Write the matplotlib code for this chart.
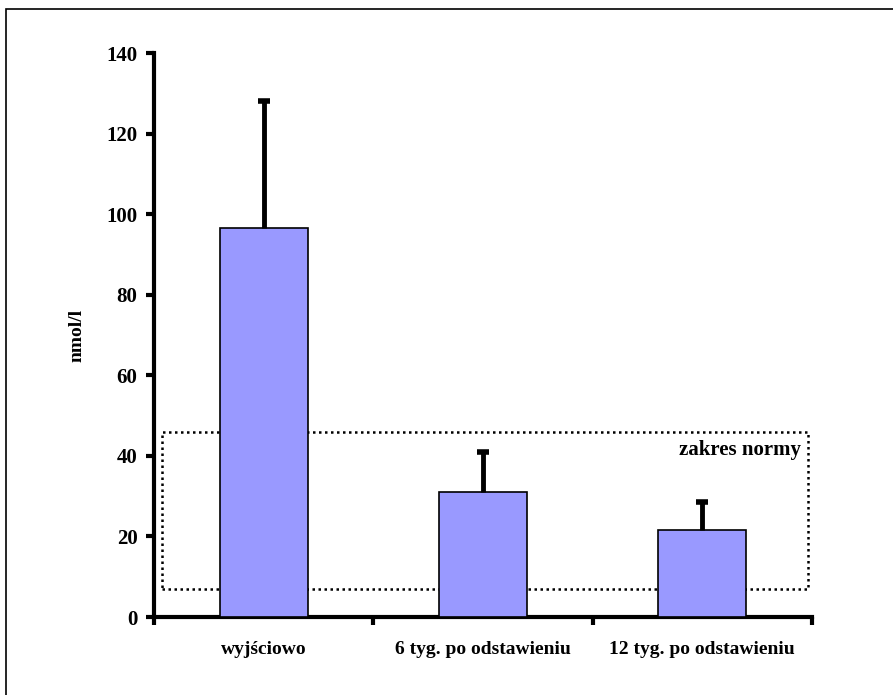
import matplotlib.pyplot as plt
from matplotlib.patches import Rectangle

# data
categories = ["wyjściowo", "6 tyg. po odstawieniu", "12 tyg. po odstawieniu"]
means = [96.5, 31.0, 21.5]
sd_upper = [31.5, 10.0, 7.0]
norm_low = 7.0
norm_high = 46.0
y_ticks = [0, 20, 40, 60, 80, 100, 120, 140]

plt.rcParams['font.family'] = ['Liberation Serif', 'DejaVu Serif']
plt.rcParams['font.weight'] = 'bold'

fig = plt.figure(figsize=(8.93, 6.95), dpi=100)
ax = fig.add_axes([0.1725, 0.1122, 0.7368, 0.8115])

x = list(range(len(categories)))
ax.bar(x, means, width=0.4, color="#9999FF", edgecolor="black", linewidth=1.2, zorder=3)

# upper error bars only
tops = [m + s for m, s in zip(means, sd_upper)]
ax.vlines(x, means, tops, colors="black", linewidth=3.5, zorder=4)
ax.plot(x, tops, linestyle="none", marker="_", markersize=9, markeredgewidth=4,
        color="black", solid_capstyle="round", zorder=4)

# dotted normal range box
ax.add_patch(Rectangle((-0.4635, norm_low), 2.482 + 0.4635, norm_high - norm_low,
                       fill=False, linestyle=(0, (1, 1.4)), linewidth=1.8,
                       edgecolor="black", zorder=2))
ax.text(2.45, 41.5, "zakres normy", ha="right", va="center", fontsize=15,
        fontweight="bold", zorder=5)

ax.set_xlim(-0.5, 2.5)
ax.set_ylim(0, 140)
ax.set_yticks(y_ticks)
ax.set_yticklabels([str(v) for v in y_ticks], fontsize=15, fontweight="bold")
ax.set_xticks([-0.5, 0.5, 1.5, 2.5])
ax.set_xticklabels([])
ax.set_xticks(x, minor=True)
ax.set_xticklabels(categories, minor=True, fontsize=14, fontweight="bold")
ax.tick_params(axis="x", which="minor", length=0, pad=17)
ax.tick_params(axis="x", which="major", length=6, width=3, direction="out")
ax.tick_params(axis="y", length=6, width=3, direction="out", pad=6)
ax.set_ylabel("nmol/l", fontsize=14, fontweight="bold", labelpad=15)

for side in ["top", "right"]:
    ax.spines[side].set_visible(False)
for side in ["left", "bottom"]:
    ax.spines[side].set_linewidth(3)

# outer frame, cut at right and bottom edges
fig.patches.append(Rectangle((6 / 893, -0.1), 1.2, (695 - 9) / 695 + 0.1,
                             transform=fig.transFigure, fill=False,
                             edgecolor="black", linewidth=1.2))

plt.savefig("out.png", dpi=100)
